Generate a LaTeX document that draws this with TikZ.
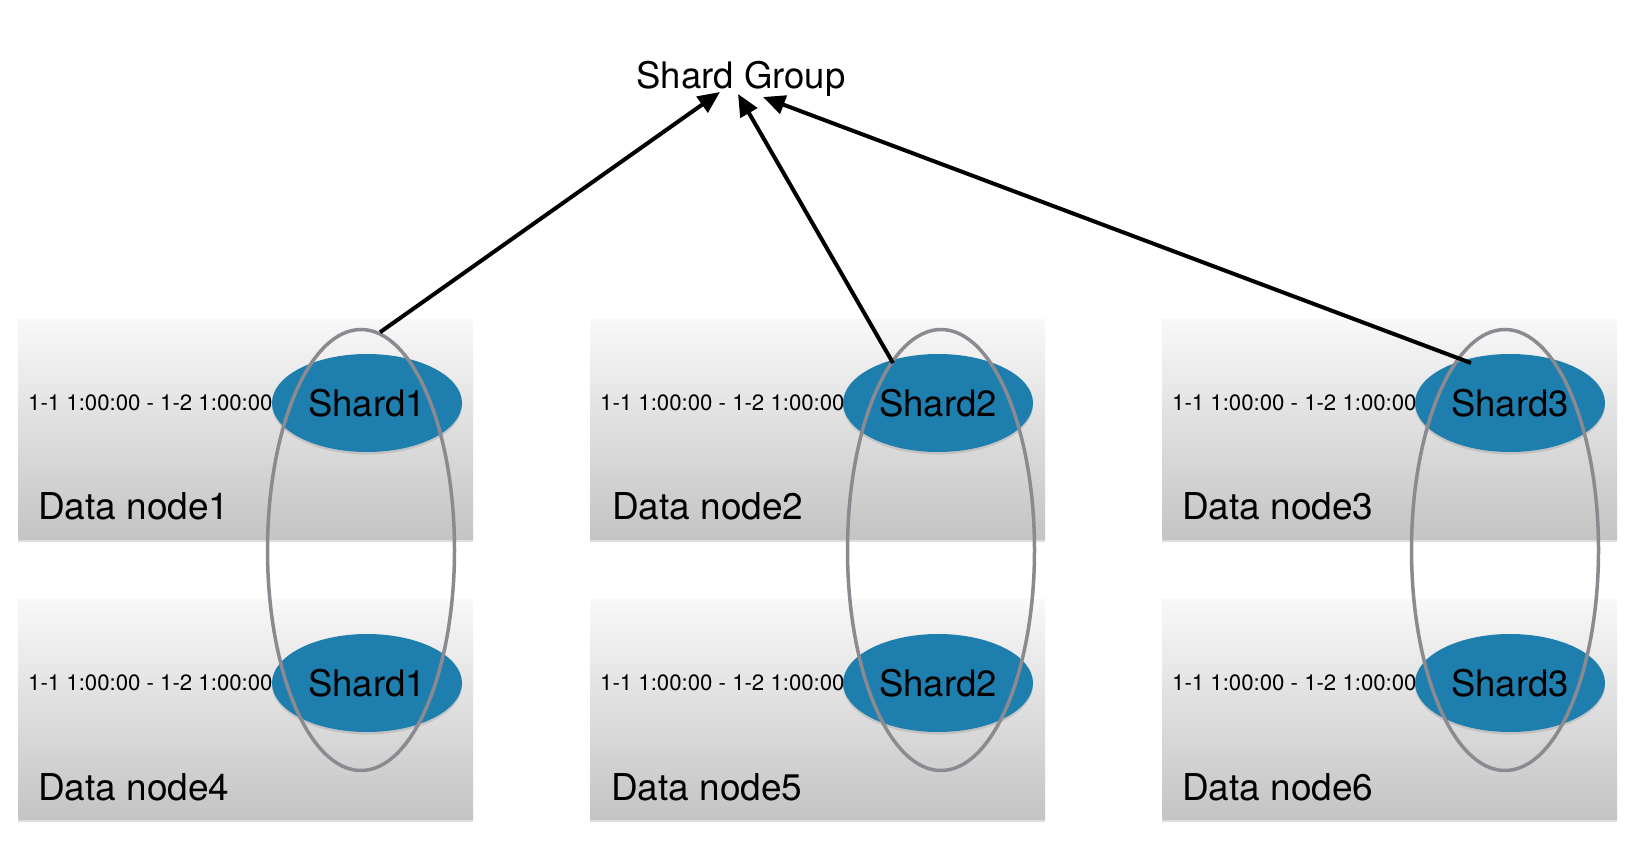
\documentclass[tikz,border=0pt]{standalone}
\usepackage{fontspec}
\setmainfont{TeX Gyre Heros}
\usetikzlibrary{shadows,arrows.meta,calc,shapes.geometric}
\definecolor{shardblue}{RGB}{30,127,174}
\definecolor{ringgray}{RGB}{138,138,144}
\definecolor{boxtop}{RGB}{248,248,248}
\definecolor{boxbot}{RGB}{196,196,196}
\begin{document}
\begin{tikzpicture}[x=1pt,y=-1pt,
  databox/.style={rectangle, anchor=north west, minimum width=455pt, minimum height=220pt, inner sep=0pt,
    top color=boxtop, bottom color=boxbot,
    drop shadow={opacity=0.25, shadow xshift=0pt, shadow yshift=-3pt}},
  shardnode/.style={ellipse, fill=shardblue, minimum width=190pt, minimum height=98pt, inner sep=0pt,
    font=\fontsize{36.5}{40}\selectfont,
    drop shadow={opacity=0.25, shadow xshift=0pt, shadow yshift=-2.5pt}},
  ring/.style={ellipse, draw=ringgray, line width=3.5pt, minimum width=187pt, minimum height=441pt, inner sep=0pt},
  datetext/.style={anchor=west, font=\fontsize{22.2}{25}\selectfont, inner sep=0pt},
  nodelabel/.style={anchor=base west, font=\fontsize{37}{40}\selectfont, inner sep=0pt},
  link/.style={line width=4pt, -{Triangle[length=22pt,width=19pt]}}
]
\fill[white] (0,0) rectangle (1646,856);
\useasboundingbox (0,0) rectangle (1646,856);

% boxes
\node[databox] (b1) at (18,319) {};
\node[databox] (b2) at (590,319) {};
\node[databox] (b3) at (1162,319) {};
\node[databox] (b4) at (18,599) {};
\node[databox] (b5) at (590,599) {};
\node[databox] (b6) at (1162,599) {};

% date texts
\node[datetext] (d1) at (28,403) {1-1 1:00:00 - 1-2 1:00:00};
\node[datetext] (d2) at (600,403) {1-1 1:00:00 - 1-2 1:00:00};
\node[datetext] (d3) at (1172,403) {1-1 1:00:00 - 1-2 1:00:00};
\node[datetext] (d4) at (28,683) {1-1 1:00:00 - 1-2 1:00:00};
\node[datetext] (d5) at (600,683) {1-1 1:00:00 - 1-2 1:00:00};
\node[datetext] (d6) at (1172,683) {1-1 1:00:00 - 1-2 1:00:00};

% data node labels
\node[nodelabel] (l1) at (38,519) {Data node1};
\node[nodelabel] (l2) at (612,519) {Data node2};
\node[nodelabel] (l3) at (1182,519) {Data node3};
\node[nodelabel] (l4) at (38,800) {Data node4};
\node[nodelabel] (l5) at (611,800) {Data node5};
\node[nodelabel] (l6) at (1182,800) {Data node6};

% shards
\node[shardnode] (s1) at (367,403) {Shard1};
\node[shardnode] (s2) at (938,403) {Shard2};
\node[shardnode] (s3) at (1510,403) {Shard3};
\node[shardnode] (s4) at (367,683) {Shard1};
\node[shardnode] (s5) at (938,683) {Shard2};
\node[shardnode] (s6) at (1510,683) {Shard3};

% replica rings
\node[ring] (r1) at (361,550) {};
\node[ring] (r2) at (941,550) {};
\node[ring] (r3) at (1505,550) {};

% shard group
\node[anchor=base, font=\fontsize{36.5}{40}\selectfont, inner sep=0pt] (sg) at (741,89) {Shard Group};

\draw[link] (r1.85) -- ($(sg.base)+(-21,3)$);
\draw[link] ($(s2)+(-45,-40)$) -- ($(sg.base)+(-3,5)$);
\draw[link] ($(s3)+(-39,-40)$) -- ($(sg.base)+(22,8)$);
\end{tikzpicture}
\end{document}
